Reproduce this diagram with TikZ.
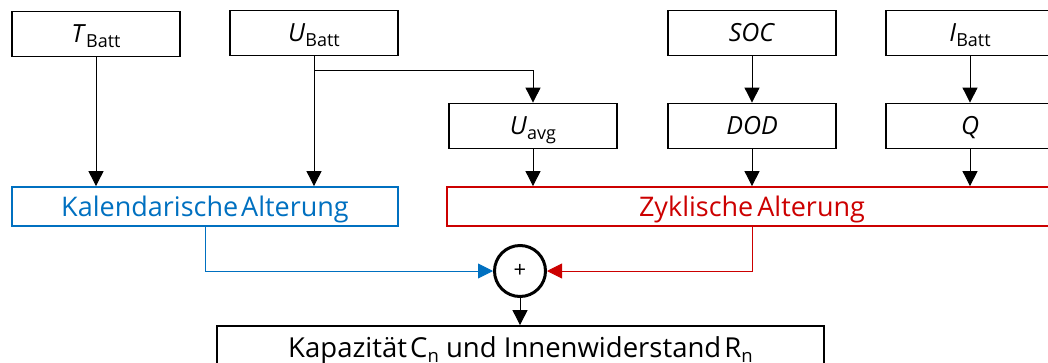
\documentclass[tikz,border=0pt]{standalone}
\usepackage{fontspec}
\setmainfont{Open Sans}
\usetikzlibrary{arrows.meta}
\definecolor{kblue}{RGB}{0,112,192}
\definecolor{kred}{RGB}{204,0,0}
\newcommand{\sbt}[1]{\raisebox{-5pt}{\fontsize{18}{18}\selectfont #1}}
\newcommand{\sbn}[1]{\raisebox{-5pt}{\fontsize{18.5}{18.5}\selectfont #1}}
\begin{document}
\begin{tikzpicture}[x=1pt,y=-1pt,
  inbox/.style={draw, line width=1.8pt, minimum width=168pt, minimum height=45pt, inner sep=0pt,
    text height=17.7pt, text depth=0pt, font=\fontsize{25}{25}\selectfont},
  conn/.style={line width=0.9pt, -{Triangle[width=15pt,length=15pt]}},
  colbox/.style={line width=1.8pt, minimum height=39pt, inner sep=0pt},
  coltext/.style={inner sep=0pt, text height=19.5pt, text depth=0pt, font=\fontsize{27}{27}\selectfont}]
\useasboundingbox (0,0) rectangle (1048,362);
% blue branch first
\node[colbox, draw=kblue, minimum width=386pt] (kal) at (205,206.5) {};
\node[draw, circle, line width=3pt, minimum size=51pt, inner sep=0pt, font=\fontsize{22}{22}\selectfont] (sum) at (520,271) {+};
\begin{scope}[color=kblue]
\draw[conn, draw=kblue] (kal.south) |- (sum.west);
\end{scope}
% red branch
\node[colbox, draw=kred, minimum width=610pt] (zyk) at (752,206.5) {};
\begin{scope}[color=kred]
\draw[conn, draw=kred] (zyk.south) |- (sum.east);
\end{scope}
% inputs
\node[inbox] (T) at (96,34) {\textit{T}\sbt{Batt}};
\node[inbox] (U) at (314,33) {\textit{U}\sbt{Batt}};
\node[inbox] (Uavg) at (533,126) {\textit{U}\sbt{avg}};
\node[inbox] (SOC) at (752,33) {\textit{SOC}};
\node[inbox] (DOD) at (752,126) {\textit{DOD}};
\node[inbox] (I) at (970,33) {\textit{I}\sbt{Batt}};
\node[inbox] (Q) at (970,126) {\textit{Q}};
% output
\node[draw, line width=1.8pt, minimum width=607pt, inner sep=0pt,
  text height=31pt, text depth=20pt, anchor=base, font=\fontsize{27.5}{27.5}\selectfont] (out) at (520.5,357)
  {Kapazität\hspace{-4pt} C\sbn{n} und Innenwiderstand\hspace{-4pt} R\sbn{n}};
% connectors
\coordinate (ujunc) at (U.south |- 0,70);
\draw[conn] (T.south) -- (T.south |- kal.north);
\draw[conn] (U.south) -- (U.south |- kal.north);
\draw[conn] (ujunc) -| (Uavg.north);
\draw[conn] (Uavg.south) -- (Uavg.south |- zyk.north);
\draw[conn] (SOC.south) -- (DOD.north);
\draw[conn] (DOD.south) -- (DOD.south |- zyk.north);
\draw[conn] (I.south) -- (Q.north);
\draw[conn] (Q.south) -- (Q.south |- zyk.north);
\draw[conn] (sum.south) -- (sum.south |- out.north);
% labels of the ageing boxes
\node[coltext, text=kblue] (kallabel) at (kal.center) {Kalendarische\hspace{-4pt} Alterung};
\node[coltext, text=kred] (zyklabel) at (zyk.center) {Zyklische\hspace{-3pt} Alterung};
\end{tikzpicture}
\end{document}
